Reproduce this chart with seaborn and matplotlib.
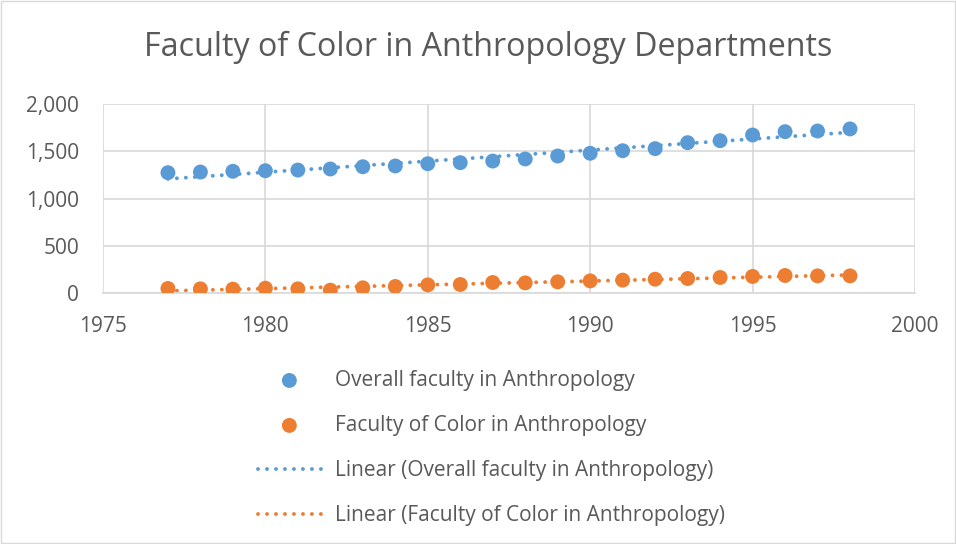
import numpy as np
import pandas as pd
import matplotlib.pyplot as plt
import seaborn as sns

# values
years = list(range(1977, 1999))
overall = [1275, 1282, 1290, 1296, 1303, 1314, 1338, 1346, 1370, 1381, 1398,
           1420, 1451, 1480, 1507, 1529, 1592, 1613, 1673, 1708, 1715, 1737]
of_color = [53, 49, 46, 56, 49, 35, 60, 74, 91, 95, 116,
            112, 123, 133, 141, 151, 158, 169, 180, 190, 186, 186]

x_ticks = [1975, 1980, 1985, 1990, 1995, 2000]
y_ticks = [0, 500, 1000, 1500, 2000]

name_overall = 'Overall faculty in Anthropology'
name_color = 'Faculty of Color in Anthropology'

df = pd.DataFrame({'Year': years, name_overall: overall, name_color: of_color})

sns.set_theme(style='white')
plt.rcParams['font.family'] = ['Open Sans', 'DejaVu Sans']

blue = '#5B9BD5'
orange = '#ED7D31'
text_col = '#595959'
grid_col = '#D9D9D9'

fig = plt.figure(figsize=(9.56, 5.44), dpi=100)
ax = fig.add_axes([0.1077, 0.4605, 0.8494, 0.3483])

# trend lines (linear fits)
trend_lines = []
for col, c in [(name_overall, blue), (name_color, orange)]:
    sns.regplot(data=df, x='Year', y=col, ax=ax, scatter=False, ci=None,
                truncate=True, color=c,
                line_kws=dict(ls=(0, (0.01, 2.3)), lw=2.8, dash_capstyle='round', zorder=2))
    line = ax.lines[-1]
    line.set_label(f'Linear ({col})')
    trend_lines.append(line)

sc1 = ax.scatter(df['Year'], df[name_overall], color=blue, s=115, edgecolor='none', zorder=3)
sc2 = ax.scatter(df['Year'], df[name_color], color=orange, s=115, edgecolor='none', zorder=3)

ax.set_xlim(1975, 2000)
ax.set_ylim(0, 2000)
ax.set_xticks(x_ticks)
ax.set_yticks(y_ticks)
ax.set_yticklabels([f'{v:,}' for v in y_ticks])
ax.set_xlabel('')
ax.set_ylabel('')
ax.grid(True, color=grid_col, lw=1.2)
ax.set_axisbelow(True)
for s in ['top', 'right', 'left']:
    ax.spines[s].set_visible(False)
ax.spines['bottom'].set_color(grid_col)
ax.spines['bottom'].set_linewidth(1.2)
ax.tick_params(axis='both', length=0, labelsize=15, labelcolor=text_col)
ax.tick_params(axis='x', pad=16)
ax.tick_params(axis='y', pad=17)

fig.text(0.511, 0.912, 'Faculty of Color in Anthropology Departments',
         ha='center', va='center', fontsize=23.2, color=text_col)

# legend below the plot
fig.legend([sc1, sc2] + trend_lines,
           [name_overall, name_color, f'Linear ({name_overall})', f'Linear ({name_color})'],
           loc='upper left', bbox_to_anchor=(0.27, 0.320), frameon=False,
           borderpad=0, borderaxespad=0,
           fontsize=15, labelcolor=text_col, labelspacing=1.15,
           handlelength=3.0, handletextpad=0.67, markerscale=1)

# light border around the whole chart
fig.patches.append(plt.Rectangle((0.001, 0.001), 0.998, 0.998, transform=fig.transFigure,
                                 fill=False, edgecolor=grid_col, lw=1))

fig.savefig('out.png', dpi=100)
